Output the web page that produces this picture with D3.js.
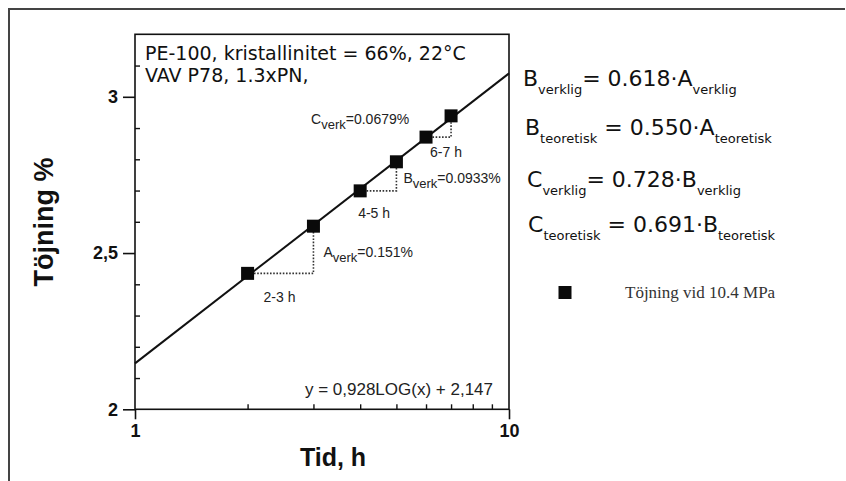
<!DOCTYPE html>
<html>
<head>
<meta charset="utf-8">
<script src="https://cdn.jsdelivr.net/npm/d3@7"></script>
<style>
  html, body { margin: 0; padding: 0; background: #fff; }
  svg { display: block; }
</style>
</head>
<body>
<svg id="chart" width="846" height="481"></svg>
<script>
// ---- data ----
const hours = [2, 3, 4, 5, 6, 7];
const strain = [2.435, 2.586, 2.699, 2.792, 2.871, 2.939];
const fitX = [1, 10];
const fitY = [2.147, 3.075];
const xMajorTicks = [1, 10];
const xMinorTicks = [2, 3, 4, 5, 6, 7, 8, 9];
const yMajorTicks = [2, 2.5, 3];
const yMajorLabels = ["2", "2,5", "3"];
const yMinorTicks = [2.1, 2.2, 2.3, 2.4, 2.6, 2.7, 2.8, 2.9, 3.1];
const stepFrom = [2, 4, 6];   // indices by hour
const stepTo = [3, 5, 7];
const stepLabels = ["A", "B", "C"];
const stepValues = ["=0.151%", "=0.0933%", "=0.0679%"];
const intervalLabels = ["2-3 h", "4-5 h", "6-7 h"];
const eqMain = ["B", "B", "C", "C"];
const eqSub = ["verklig", "teoretisk", "verklig", "teoretisk"];
const eqMid = ["= 0.618·A", " = 0.550·A", "= 0.728·B", " = 0.691·B"];
const legendLabel = "Töjning vid 10.4 MPa";

// ---- layout ----
const svg = d3.select("#chart");
const L = 135, R = 509, T = 34.3, B = 409.3;
const x = d3.scaleLog().domain([1, 10]).range([L, R]);
const y = d3.scaleLinear().domain([2, 3.2]).range([B, T]);
const val = h => strain[hours.indexOf(h)];

// outer frame
svg.append("path").attr("d", `M9,490 L9,9 L845,9`)
  .attr("fill", "none").attr("stroke", "#444").attr("stroke-width", 2);

// plot frame
svg.append("rect").attr("x", L).attr("y", T).attr("width", R - L).attr("height", B - T)
  .attr("fill", "none").attr("stroke", "#111").attr("stroke-width", 1.6);

// axes
const gx = svg.append("g").attr("transform", `translate(0,${B})`)
  .call(d3.axisBottom(x).tickValues(xMajorTicks).tickSize(10).tickFormat(d3.format("d")));
gx.select(".domain").remove();
gx.selectAll("text").attr("dy", "0").attr("y", 28)
  .style("font", "bold 18px 'Liberation Sans', Arial, sans-serif").attr("fill", "#111");
gx.selectAll("line").attr("stroke", "#111").attr("stroke-width", 1.6);
const gxm = svg.append("g").attr("transform", `translate(0,${B})`)
  .call(d3.axisBottom(x).tickValues(xMinorTicks).tickSize(-5).tickFormat(""));
gxm.select(".domain").remove();
gxm.selectAll("line").attr("stroke", "#111").attr("stroke-width", 1.4);

const gy = svg.append("g").attr("transform", `translate(${L},0)`)
  .call(d3.axisLeft(y).tickValues(yMajorTicks).tickSize(12)
    .tickFormat((d, i) => yMajorLabels[i]));
gy.select(".domain").remove();
gy.selectAll("text").attr("x", -17)
  .style("font", "bold 18px 'Liberation Sans', Arial, sans-serif").attr("fill", "#111");
gy.selectAll("line").attr("stroke", "#111").attr("stroke-width", 1.6);
const gym = svg.append("g").attr("transform", `translate(${L},0)`)
  .call(d3.axisLeft(y).tickValues(yMinorTicks).tickSize(-5).tickFormat(""));
gym.select(".domain").remove();
gym.selectAll("line").attr("stroke", "#111").attr("stroke-width", 1.4);

// axis titles
svg.append("text").attr("x", 333).attr("y", 466).attr("text-anchor", "middle")
  .style("font", "bold 25px 'Liberation Sans', Arial, sans-serif").attr("fill", "#111")
  .text("Tid, h");
svg.append("text").attr("transform", "translate(53,222) rotate(-90)")
  .attr("text-anchor", "middle")
  .style("font", "bold 27px 'Liberation Sans', Arial, sans-serif").attr("fill", "#111")
  .text("Töjning %");

// fit line
const line = d3.line().x(d => x(d[0])).y(d => y(d[1]));
svg.append("path").datum(fitX.map((d, i) => [d, fitY[i]]))
  .attr("d", line).attr("fill", "none").attr("stroke", "#111").attr("stroke-width", 2);

// dotted step lines
stepFrom.forEach((h0, i) => {
  const h1 = stepTo[i];
  svg.append("path")
    .attr("d", `M${x(h0)},${y(val(h0))} L${x(h1)},${y(val(h0))} L${x(h1)},${y(val(h1))}`)
    .attr("fill", "none").attr("stroke", "#333").attr("stroke-width", 1.6)
    .attr("stroke-dasharray", "1.6,1.6");
});

// markers
svg.append("g").selectAll("rect").data(hours).join("rect")
  .attr("x", d => x(d) - 6.5).attr("y", (d, i) => y(strain[i]) - 6.5)
  .attr("width", 13).attr("height", 13).attr("fill", "#0a0a0a");

// annotations
const annFont = "14px 'Liberation Sans', Arial, sans-serif";
const stepPos = [[-10, 35, 10, 29], [-5, 21, 3, -5], [-140, -37, -12, 20]]; // [labelDx, labelDy, intDx, intDy] offsets
stepFrom.forEach((h0, i) => {
  const h1 = stepTo[i];
  const px = x(h1), py = y(val(h0));
  const p = stepPos[i];
  const t = svg.append("text").attr("x", px + p[0] + (i === 0 ? 20 : i === 1 ? 12 : 0))
    .attr("y", py + (i === 0 ? -16 : i === 1 ? -8 : -52 + 39))
    .style("font", annFont).attr("fill", "#222");
  t.append("tspan").text(stepLabels[i]);
  t.append("tspan").attr("dy", 5).style("font-size", "13px").text("verk");
  t.append("tspan").attr("dy", -5).text(stepValues[i]);
});
// interval labels placed below the start marker
intervalLabels.forEach((s, i) => {
  const h0 = stepFrom[i];
  const off = [[16, 29], [-2, 27], [4, 20]][i];
  svg.append("text").attr("x", x(h0) + off[0]).attr("y", y(val(h0)) + off[1])
    .style("font", annFont).attr("fill", "#222").text(s);
});

// equation text in plot
svg.append("text").attr("x", 493).attr("y", 395).attr("text-anchor", "end")
  .style("font", "17px 'Liberation Sans', Arial, sans-serif").attr("fill", "#222")
  .text("y = 0,928LOG(x) + 2,147");

// header text
const hdr = svg.append("text").style("font", "19px 'DejaVu Sans', Verdana, sans-serif").attr("fill", "#111");
hdr.append("tspan").attr("x", 145).attr("y", 60).text("PE-100, kristallinitet = 66%, 22°C");
hdr.append("tspan").attr("x", 145).attr("y", 82).text("VAV P78, 1.3xPN,");

// right-side relations
const eqX = [523, 525, 527, 528];
const eqY = [86, 135, 187, 232];
eqMain.forEach((m, i) => {
  const t = svg.append("text").attr("x", eqX[i]).attr("y", eqY[i])
    .style("font", "22px 'DejaVu Sans', Verdana, sans-serif").attr("fill", "#111");
  t.append("tspan").text(m);
  t.append("tspan").attr("dy", 8).style("font-size", "13px").text(eqSub[i]);
  t.append("tspan").attr("dy", -8).style("white-space", "pre").attr("xml:space", "preserve").text(eqMid[i]);
  t.append("tspan").attr("dy", 8).style("font-size", "13px").text(eqSub[i]);
});

// legend
svg.append("rect").attr("x", 558.5).attr("y", 286).attr("width", 13).attr("height", 13).attr("fill", "#0a0a0a");
svg.append("text").attr("x", 625).attr("y", 298)
  .style("font", "17px 'Liberation Serif', 'Times New Roman', serif").attr("fill", "#333")
  .text(legendLabel);
</script>
</body>
</html>
